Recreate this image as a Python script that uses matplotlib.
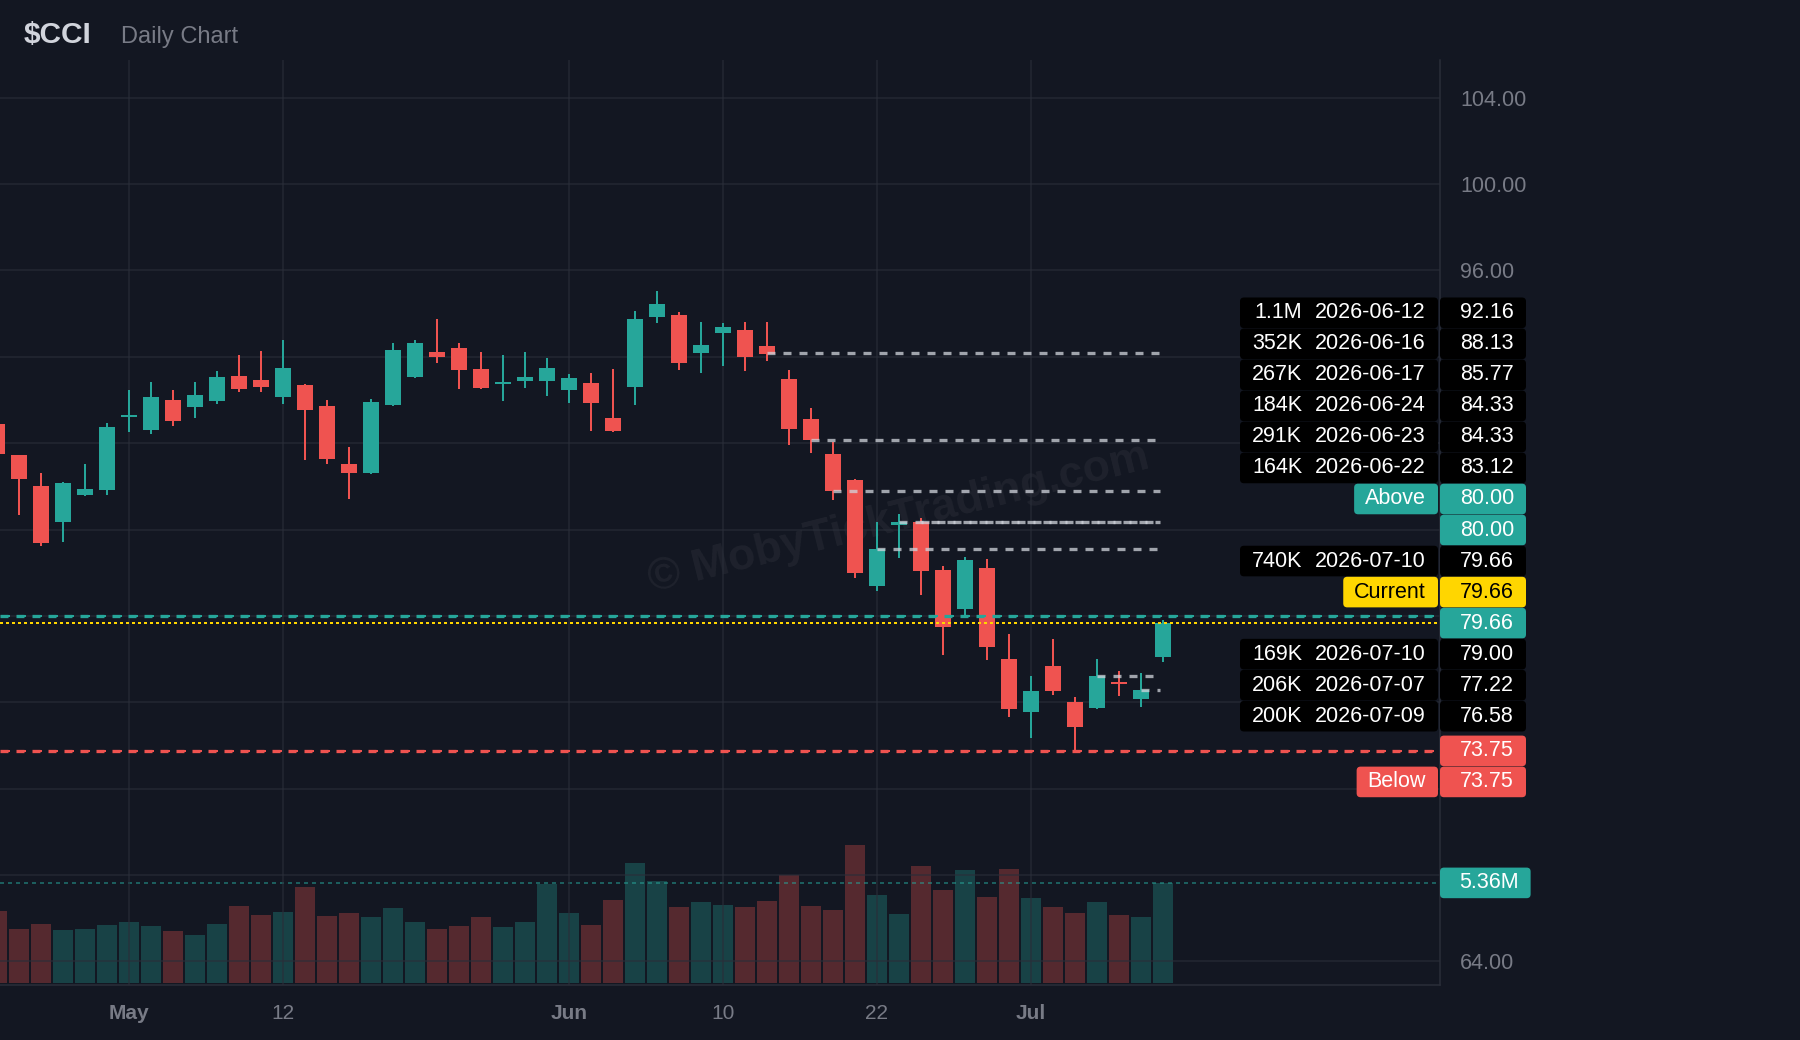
import matplotlib
matplotlib.use("Agg")
import matplotlib.pyplot as plt
from matplotlib.patches import FancyBboxPatch
from matplotlib.transforms import Affine2D
import numpy as np
import pandas as pd

# ---- data ----
holidays = ['2026-05-25', '2026-06-19', '2026-07-03']
dates = [d.strftime('%Y-%m-%d') for d in pd.bdate_range('2026-04-23', '2026-07-10')
         if d.strftime('%Y-%m-%d') not in holidays]

opens = [88.90, 87.43, 86.00, 84.35, 85.60, 85.83, 89.22, 88.61, 90.01, 89.68,
         89.95, 91.11, 90.93, 90.15, 90.70, 89.72, 87.04, 86.62, 89.78, 91.07,
         92.22, 92.40, 91.43, 90.73, 90.88, 90.88, 90.46, 90.78, 89.17, 90.61,
         93.84, 93.93, 92.17, 93.10, 93.24, 92.49, 90.96, 89.13, 87.50, 86.30,
         81.39, 84.21, 84.33, 82.12, 80.31, 82.22, 78.01, 75.55, 77.68, 76.01,
         75.74, 76.93, 76.15, 78.09]
highs = [89.20, 87.45, 86.60, 86.20, 87.04, 88.93, 90.47, 90.85, 90.47, 90.85,
         91.34, 92.08, 92.26, 92.78, 90.72, 90.01, 87.82, 90.06, 92.64, 92.78,
         93.74, 92.64, 92.22, 92.08, 92.22, 91.94, 91.20, 91.25, 91.43, 94.11,
         95.03, 94.07, 93.61, 93.56, 93.61, 93.61, 91.39, 89.63, 88.05, 86.35,
         84.35, 84.72, 84.53, 82.32, 82.72, 82.63, 79.16, 77.22, 78.92, 76.24,
         78.01, 77.45, 77.36, 79.80]
lows = [87.20, 84.66, 83.24, 83.42, 85.56, 85.60, 88.52, 88.43, 88.79, 89.16,
        89.82, 90.37, 90.37, 89.82, 87.22, 87.04, 85.42, 86.58, 89.74, 91.02,
        91.71, 90.50, 90.50, 89.95, 90.55, 90.18, 89.86, 88.56, 88.52, 89.78,
        93.56, 91.39, 91.25, 91.57, 91.34, 91.80, 87.92, 87.54, 85.37, 81.75,
        81.16, 82.68, 80.97, 78.20, 80.03, 77.97, 75.32, 74.35, 76.34, 73.75,
        75.69, 76.29, 75.79, 77.86]
closes = [87.49, 86.32, 83.39, 86.15, 85.88, 88.76, 89.26, 90.15, 89.03, 90.24,
          91.07, 90.51, 90.61, 91.48, 89.54, 87.27, 86.62, 89.92, 92.31, 92.64,
          91.99, 91.39, 90.55, 90.83, 91.07, 91.48, 91.02, 89.86, 88.56, 93.74,
          94.43, 91.71, 92.54, 93.38, 91.99, 92.12, 88.67, 88.13, 85.77, 81.99,
          83.12, 84.33, 82.10, 79.48, 82.58, 78.56, 75.69, 76.53, 76.53, 74.85,
          77.22, 76.84, 76.58, 79.66]
volumes = [3.85, 2.89, 3.16, 2.84, 2.89, 3.11, 3.27, 3.05, 2.79, 2.57,
           3.16, 4.12, 3.64, 3.80, 5.13, 3.59, 3.75, 3.53, 4.01, 3.27,
           2.89, 3.05, 3.53, 3.00, 3.27, 5.29, 3.75, 3.11, 4.44, 6.41,
           5.45, 4.07, 4.33, 4.17, 4.07, 4.39, 5.77, 4.12, 3.91, 7.37,
           4.71, 3.69, 6.25, 4.97, 6.04, 4.60, 6.09, 4.55, 4.07, 3.75,
           4.33, 3.64, 3.53, 5.36]  # millions

level_vols = ['1.1M', '352K', '267K', '184K', '291K', '164K', '740K', '169K', '206K', '200K']
level_dates = ['2026-06-12', '2026-06-16', '2026-06-17', '2026-06-24', '2026-06-23',
               '2026-06-22', '2026-07-10', '2026-07-10', '2026-07-07', '2026-07-09']
level_prices = [92.16, 88.13, 85.77, 84.33, 84.33, 83.12, 79.66, 79.00, 77.22, 76.58]
above_alert = 80.00
below_alert = 73.75
current_price = 79.66
last_volume_label = '5.36M'

tick_dates = ['2026-05-01', '2026-05-12', '2026-06-01', '2026-06-10', '2026-06-22', '2026-07-01']
tick_labels = ['May', '12', 'Jun', '10', '22', 'Jul']
price_ticks = [64, 68, 72, 76, 80, 84, 88, 92, 96, 100, 104]
shown_price_ticks = [64, 96, 100, 104]  # the rest sit behind the label boxes

# ---- style ----
BG = '#131722'
TEAL = '#26a69a'
RED = '#ef5350'
YELLOW = '#ffd600'
GRAY = '#787b86'
PX = 0.72  # points per pixel at dpi 100

plt.rcParams['font.family'] = ['Liberation Sans', 'DejaVu Sans']
plt.rcParams['lines.scale_dashes'] = False

W, H = 1800, 1040
fig = plt.figure(figsize=(W / 100, H / 100), dpi=100, facecolor=BG)
# top-left pixel coordinates -> display
pix = Affine2D().scale(1 / 100, -1 / 100).translate(0, H / 100) + fig.dpi_scale_trans

ax = fig.add_axes([0, 1 - 985 / H, 1440 / W, 925 / H])
ax2 = ax.twinx()
ax.set_zorder(2)
ax.patch.set_visible(False)
ax2.axis('off')

n = len(dates)
x = np.arange(n)
o = np.array(opens); c = np.array(closes)
up = c >= o
colors = np.where(up, TEAL, RED)

# volume
ax2.bar(x, volumes, width=0.91, color=colors, alpha=0.3, linewidth=0)
ax2.axhline(volumes[-1], color=TEAL, alpha=0.5, lw=2 * PX, dashes=(4 * PX, 4 * PX))
ax2.set_ylim(-0.09, 49.28)

# candles
ax.vlines(x, lows, highs, colors=colors, lw=2 * PX, zorder=3)
body_h = np.maximum(np.abs(c - o), 0.09)
ax.bar(x, body_h, bottom=np.minimum(o, c), width=0.727, color=colors, linewidth=0, zorder=4)

# level lines
last_i = n - 1
for p, d in zip(level_prices, level_dates):
    i0 = dates.index(d)
    if i0 >= last_i:
        continue
    ax.plot([i0, last_i - 0.15], [p, p], color='#d1d4dc', alpha=0.75, lw=3.3 * PX,
            dashes=(8 * PX, 8 * PX), zorder=5, solid_capstyle='butt')

for p, col in [(above_alert, TEAL), (below_alert, RED)]:
    ax.axhline(p, color=col, lw=3.3 * PX, dashes=(8 * PX, 8 * PX), zorder=5)
    ax.axhline(p, color=col, lw=2 * PX, linestyle=(10 * PX, (4 * PX, 12 * PX)), zorder=5)
ax.axhline(current_price, color=YELLOW, lw=2 * PX, dashes=(3 * PX, 3 * PX), zorder=5)

ax.set_xlim(3 / 22, 1443 / 22)
ax.set_ylim(62.91, 105.74)

# axes look
ax.set_facecolor(BG)
for s in ['top', 'left']:
    ax.spines[s].set_visible(False)
for s in ['right', 'bottom']:
    ax.spines[s].set_color('#2a2e39')
    ax.spines[s].set_linewidth(1.5 * PX)
ax.yaxis.tick_right()
ax.set_yticks(price_ticks)
ax.set_yticklabels([f'{v:.2f}' if v in shown_price_ticks else '' for v in price_ticks])
ax.tick_params(axis='y', length=0, pad=20 * PX, labelsize=15.5, colors=GRAY)
ax.set_xticks([dates.index(d) for d in tick_dates])
ax.set_xticklabels(tick_labels)
ax.tick_params(axis='x', length=0, pad=13.5, labelsize=15, colors=GRAY)
for lbl in ax.get_xticklabels():
    if lbl.get_text() in ('May', 'Jun', 'Jul'):
        lbl.set_fontweight('bold')
ax.grid(True, color='#2a2e39', lw=1.5 * PX, alpha=0.75)

# watermark
fig.text(899, 519, '\u00a9 MobyTickTrading.com', transform=pix, rotation=14,
         ha='center', va='center', fontsize=32, fontweight='bold',
         color='white', alpha=0.05, zorder=1)

# title
fig.text(24, 42.7, r'\$CCI', transform=pix, fontsize=21.5, fontweight='bold',
         color='#d1d4dc', va='baseline', ha='left')
fig.text(121, 42.7, 'Daily Chart', transform=pix, fontsize=17, color=GRAY,
         va='baseline', ha='left')

# ---- right side labels ----
renderer = fig.canvas.get_renderer()
FS = 15.5
ROW_H = 30.6


def box(x0, x1, yc, color):
    fig.add_artist(FancyBboxPatch((x0, yc - ROW_H / 2), x1 - x0, ROW_H,
                                  boxstyle='round,pad=0,rounding_size=4',
                                  transform=pix, facecolor=color, edgecolor='none',
                                  zorder=5))


def txt(xr, yc, s, color):
    return fig.text(xr, yc, s, transform=pix, ha='right', va='center', fontsize=FS,
                    color=color, zorder=6)


def value_box(yc, s, bg, fg):
    t = txt(0, yc, s, fg)
    w = t.get_window_extent(renderer).width
    x1 = max(1526, 1440 + w + 31)
    t.set_x(x1 - 12)
    box(1440, x1, yc, bg)


def tag_box(yc, s, bg, fg):
    t = txt(1426, yc, s, fg)
    w = t.get_window_extent(renderer).width
    box(1426 - w - 11, 1438, yc, bg)


def level_row(yc, k):
    box(1240, 1438, yc, 'black')
    txt(1302, yc, level_vols[k], 'white')
    txt(1426, yc, level_dates[k], 'white')
    value_box(yc, f'{level_prices[k]:.2f}', 'black', 'white')


rows = [('lvl', 0), ('lvl', 1), ('lvl', 2), ('lvl', 3), ('lvl', 4), ('lvl', 5),
        ('above', None), ('above_val', None), ('lvl', 6), ('current', None),
        ('last', None), ('lvl', 7), ('lvl', 8), ('lvl', 9)]
y0, pitch = 312.8, 31.03
for r, (kind, k) in enumerate(rows):
    yc = y0 + r * pitch
    if kind == 'lvl':
        level_row(yc, k)
    elif kind == 'above':
        tag_box(yc, 'Above', TEAL, 'white')
        value_box(yc, f'{above_alert:.2f}', TEAL, 'white')
    elif kind == 'above_val':
        value_box(yc, f'{above_alert:.2f}', TEAL, 'white')
    elif kind == 'current':
        tag_box(yc, 'Current', YELLOW, 'black')
        value_box(yc, f'{current_price:.2f}', YELLOW, 'black')
    elif kind == 'last':
        value_box(yc, f'{closes[-1]:.2f}', TEAL, 'white')

# below alert: anchored at its price, second row underneath
yb = H - ax.transData.transform((0, below_alert))[1]
value_box(yb, f'{below_alert:.2f}', RED, 'white')
tag_box(yb + pitch, 'Below', RED, 'white')
value_box(yb + pitch, f'{below_alert:.2f}', RED, 'white')

# volume label
yv = H - ax2.transData.transform((0, volumes[-1]))[1]
value_box(yv, last_volume_label, TEAL, 'white')

fig.savefig('out.png', dpi=100, facecolor=BG)
